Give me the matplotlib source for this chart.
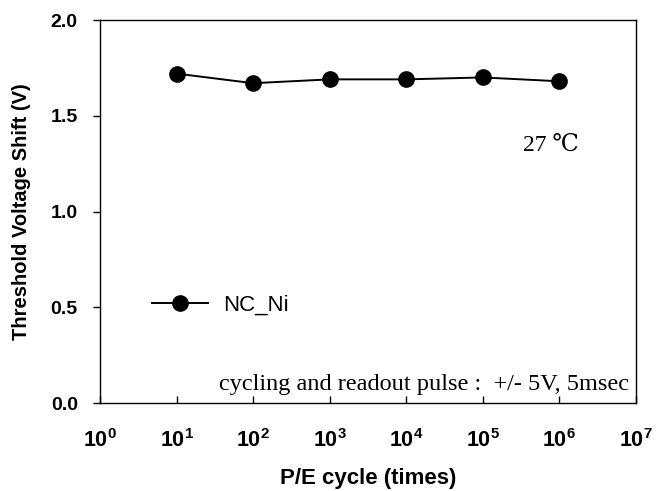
import numpy as np
import matplotlib
matplotlib.use('Agg')
import matplotlib.pyplot as plt
from matplotlib.ticker import FixedLocator, FuncFormatter

# data
cycles = [1e1, 1e2, 1e3, 1e4, 1e5, 1e6]
vth_shift = [1.72, 1.67, 1.69, 1.69, 1.70, 1.68]
series_name = 'NC_Ni'
x_ticks = [1e0, 1e1, 1e2, 1e3, 1e4, 1e5, 1e6, 1e7]
y_ticks = [0.0, 0.5, 1.0, 1.5, 2.0]

plt.rcParams['font.family'] = ['Liberation Sans', 'DejaVu Sans']
plt.rcParams['mathtext.fontset'] = 'custom'
plt.rcParams['mathtext.rm'] = 'Liberation Sans:bold'
plt.rcParams['mathtext.bf'] = 'Liberation Sans:bold'

fig = plt.figure(figsize=(6.66, 4.91), dpi=100)
ax = fig.add_axes([100 / 666, 88 / 491, 536 / 666, 383 / 491])

ax.plot(cycles, vth_shift, color='black', lw=1.4, marker='o', ms=11,
        label=series_name)

ax.set_xscale('log')
ax.set_xlim(1e0, 1e7)
ax.set_ylim(0, 2.0)
ax.xaxis.set_major_locator(FixedLocator(x_ticks))
ax.xaxis.set_minor_locator(FixedLocator([]))
ax.xaxis.set_major_formatter(FuncFormatter(
    lambda v, p: r'$\mathbf{10^{%d}}$' % int(round(np.log10(v)))))
ax.set_yticks(y_ticks)
ax.set_yticklabels([f'{v:.1f}' for v in y_ticks])

ax.tick_params(axis='x', direction='in', length=5, width=1, pad=19,
               labelsize=15.5)
ax.tick_params(axis='y', direction='out', length=5, width=1, pad=11,
               labelsize=14)
for lab in ax.get_yticklabels():
    lab.set_fontweight('bold')
for sp in ax.spines.values():
    sp.set_linewidth(1)

ax.set_xlabel('P/E cycle (times)', fontsize=16, fontweight='bold', labelpad=11)
ax.set_ylabel('Threshold Voltage Shift (V)', fontsize=14.5, fontweight='bold',
              labelpad=14)

ax.legend(loc='center left', bbox_to_anchor=(0.097, 0.256), frameon=False,
          fontsize=16, handlelength=2.5, handletextpad=0.68,
          borderpad=0, borderaxespad=0)

ax.text(0.789, 0.674, '27 ℃', transform=ax.transAxes, fontsize=17,
        family=['Liberation Serif', 'DejaVu Serif', 'DejaVu Sans'],
        ha='left', va='center')
ax.text(0.987, 0.047, 'cycling and readout pulse :  +/- 5V, 5msec',
        transform=ax.transAxes, fontsize=17.5,
        family=['Liberation Serif', 'DejaVu Serif'], ha='right', va='center')

fig.savefig('out.png', dpi=100)
